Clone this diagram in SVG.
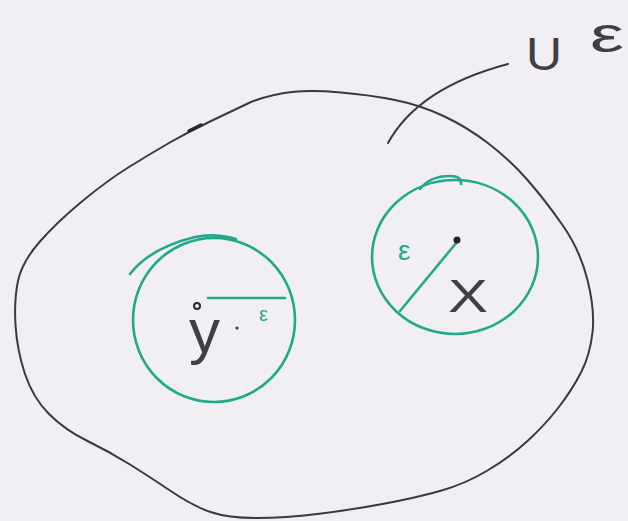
<svg xmlns="http://www.w3.org/2000/svg" width="628" height="521" viewBox="0 0 628 521">
<style>
.ink{fill:none;stroke:#3a3a3c;stroke-width:2;stroke-linecap:round;stroke-linejoin:round}
.grn{fill:none;stroke:#22a98c;stroke-width:2.6;stroke-linecap:round;stroke-linejoin:round}
.t{font-family:"Liberation Sans","DejaVu Sans",sans-serif;fill:#3f3f44}
.tg{font-family:"Liberation Sans","DejaVu Sans",sans-serif;fill:#22a98c}
</style>
<rect width="628" height="521" fill="#f1eff3"/>
<g id="set-U">
<path class="ink" d="M129,167 Q150,154 169,143 Q188,132 209,122 Q230,112 251,102 Q272,94 292,92 Q312,90 341,92.5 Q370,95 395,100 Q420,105 443.5,116 Q467,127 488.5,143.5 Q510,160 527.5,180 Q545,200 562.5,225 Q580,250 587.5,280 Q595,310 592.5,332.5 Q590,355 581,372.5 Q572,390 558.5,407.5 Q545,425 527.5,441 Q510,457 487.5,470.5 Q465,484 440,491 Q415,498 382.5,504 Q350,510 317.5,514 Q285,518 256.5,518 Q228,518 210.5,512 Q193,506 171.5,491.5 Q150,477 130,464.5 Q110,452 87.5,441 Q65,430 49,414 Q33,398 25,374 Q17,350 15.5,325 Q14,300 18,281 Q22,262 39.5,242 Q57,222 82.5,201 Q108,180 129,167 Z"/>
<path d="M189,131 L201,125" stroke="#2a2a2c" stroke-width="3.5" stroke-linecap="round"/>
</g>
<g id="label-U">
<path class="ink" d="M388,143 C405,112 440,82 508,64"/>
<text class="t" font-size="46" y="70"><tspan x="526" textLength="36" lengthAdjust="spacingAndGlyphs">U</tspan><tspan x="590" y="52" font-size="50" textLength="34" lengthAdjust="spacingAndGlyphs">ε</tspan></text>
</g>
<g id="ball-y">
<ellipse class="grn" cx="214" cy="320" rx="81" ry="82"/>
<path class="grn" d="M130,274 Q150,248 195,237 Q215,233 236,239"/>
<line class="grn" x1="208" y1="298" x2="285" y2="298"/>
<circle cx="197" cy="306" r="3" fill="#f1eff3" stroke="#2a2a2c" stroke-width="2"/>
<text class="t" font-size="62" x="189" y="352">y</text>
<circle cx="237" cy="328" r="1.6" fill="#3f3f44"/>
<text class="tg" font-size="20" x="259" y="321">ε</text>
</g>
<g id="ball-x">
<ellipse class="grn" cx="455" cy="257" rx="83" ry="77"/>
<path class="grn" d="M420,189 Q430,176 450,176 Q462,176 461,184"/>
<line class="grn" x1="457" y1="242" x2="400" y2="311"/>
<circle cx="457" cy="240" r="3.5" fill="#222"/>
<text class="tg" font-size="28" x="398" y="260">ε</text>
<text class="t" font-size="46" x="448" y="312" textLength="40" lengthAdjust="spacingAndGlyphs">X</text>
</g>
</svg>
